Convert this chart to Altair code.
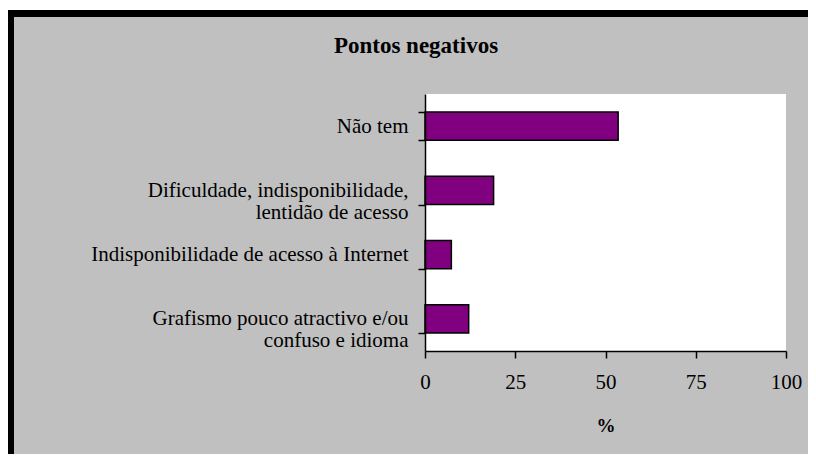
import altair as alt
import pandas as pd

categories = [
    "Não tem",
    "Dificuldade, indisponibilidade,|lentidão de acesso",
    "Indisponibilidade de acesso à Internet",
    "Grafismo pouco atractivo e/ou|confuso e idioma",
]
values = [53.5, 19.0, 7.3, 12.1]
x_ticks = [0, 25, 50, 75, 100]
title_text = ["Pontos negativos"]

df = pd.DataFrame({"cat": categories, "val": values})

SERIF = "Liberation Serif, Times New Roman, serif"
W, H = 361, 257
PL, PT, PR, PB = 417, 86, 22, 103

deco = pd.DataFrame({"t": title_text})

black_top = alt.Chart(deco).mark_rect(color="black", strokeWidth=0).encode(
    x=alt.value(-PL), x2=alt.value(W + PR), y=alt.value(-PT + 2), y2=alt.value(-PT + 9)
)
black_left = alt.Chart(deco).mark_rect(color="black", strokeWidth=0).encode(
    x=alt.value(-PL), x2=alt.value(-PL + 6), y=alt.value(-PT + 2), y2=alt.value(H + PB)
)
white_top = alt.Chart(deco).mark_rect(color="white", strokeWidth=0).encode(
    x=alt.value(-PL), x2=alt.value(W + PR), y=alt.value(-PT), y2=alt.value(-PT + 2)
)
title = alt.Chart(deco).mark_text(
    font=SERIF, fontSize=23, fontWeight="bold", color="black",
    align="center", baseline="alphabetic",
).encode(text="t:N", x=alt.value(-9), y=alt.value(-41))

bars = alt.Chart(df).mark_bar(
    color="#800080", stroke="black", strokeWidth=1.5
).encode(
    x=alt.X(
        "val:Q",
        scale=alt.Scale(domain=[0, 100], nice=False),
        axis=alt.Axis(
            values=x_ticks, title="%", grid=False, tickSize=7,
            labelPadding=13, titlePadding=24, zindex=2, labelFlush=False,
        ),
    ),
    y=alt.Y(
        "cat:N",
        sort=categories,
        scale=alt.Scale(paddingInner=0.56, paddingOuter=0.28),
        axis=alt.Axis(
            title=None, tickBand="extent", tickSize=7, labelPadding=10,
            labelExpr="split(datum.label, '|')", labelLineHeight=22,
            labelLimit=400, zindex=2,
        ),
    ),
)

chart = alt.layer(white_top, black_top, black_left, title, bars).properties(
    width=W,
    height=H,
    padding={"left": PL, "top": PT, "right": PR, "bottom": PB},
    autosize=alt.AutoSizeParams(type="none"),
    background="#c0c0c0",
).configure_view(
    strokeWidth=0, fill="white"
).configure_axis(
    labelFont=SERIF, labelFontSize=21, labelColor="black",
    titleFont=SERIF, titleFontSize=19, titleFontWeight="bold", titleColor="black",
    domainColor="black", domainWidth=1.5, tickColor="black", tickWidth=1.5,
)

chart.save("out.html", embed_options={"renderer": "svg", "actions": False})
